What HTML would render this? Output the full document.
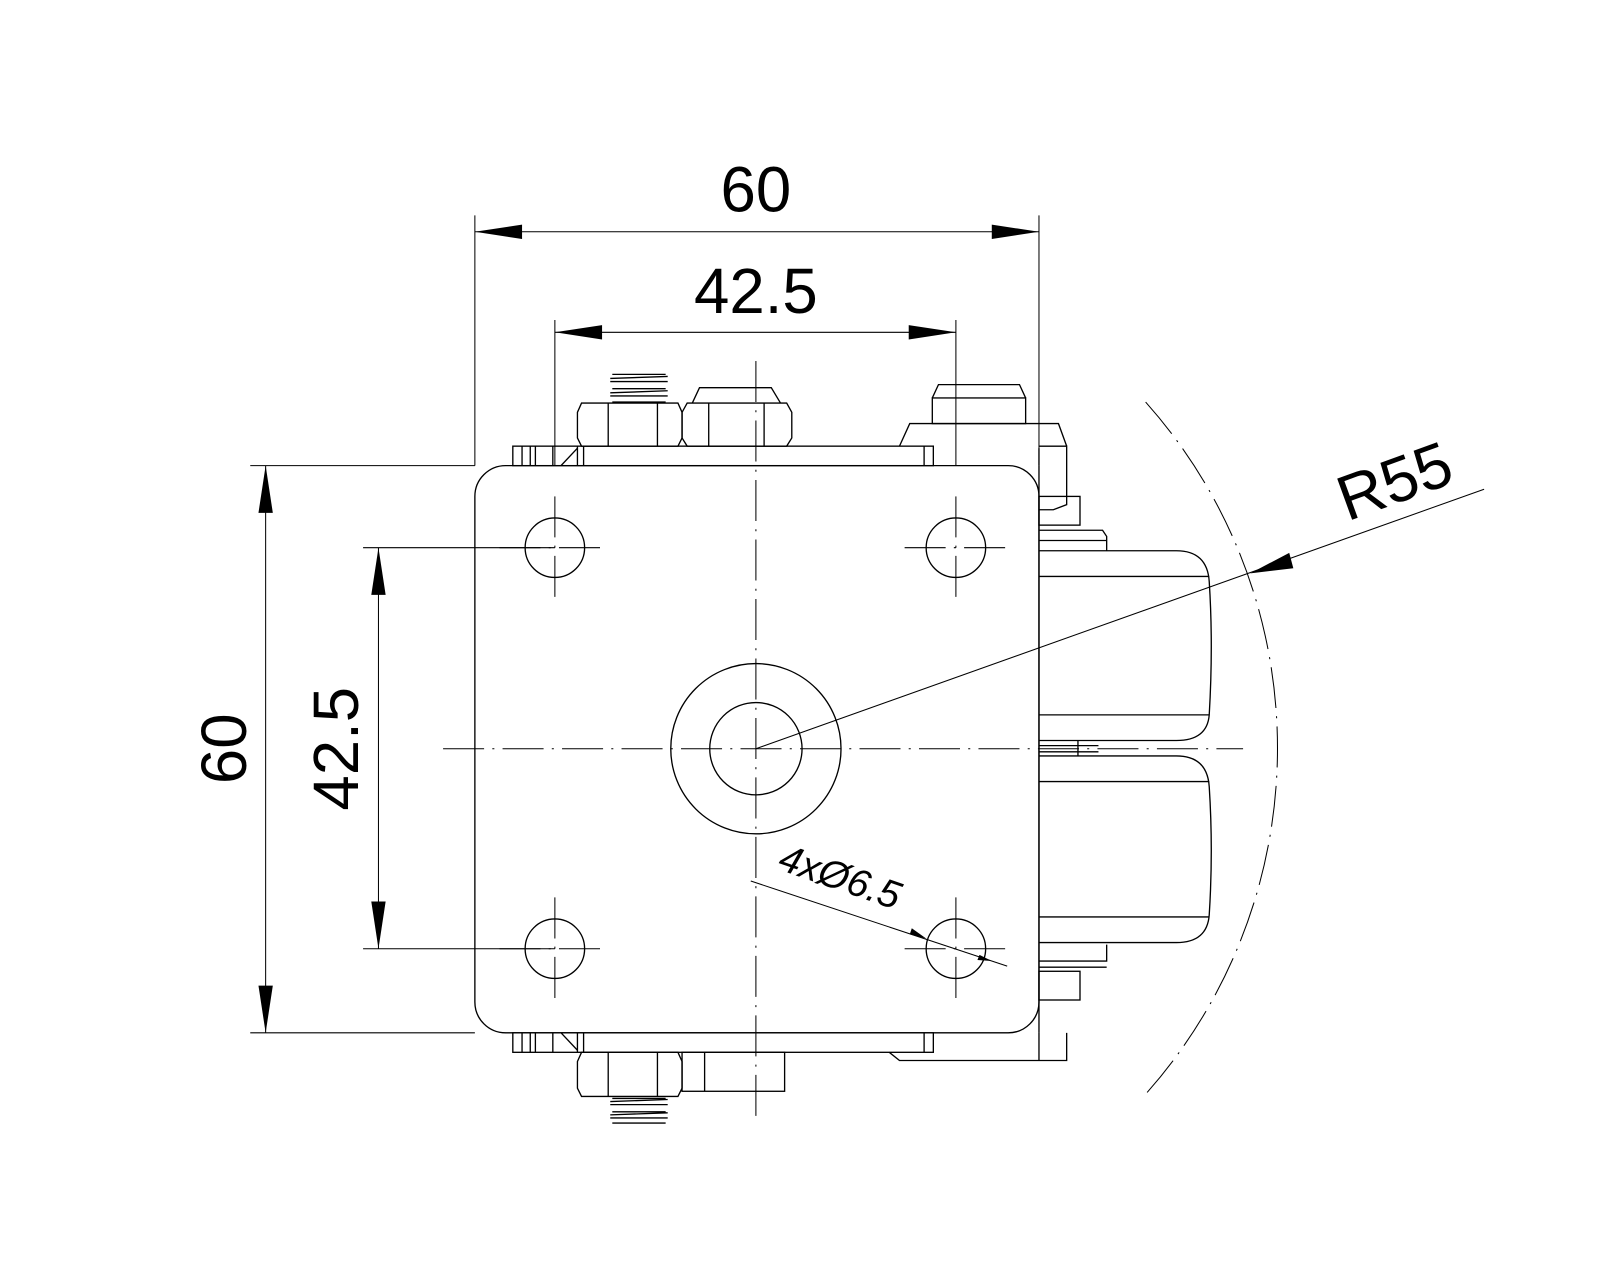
<!DOCTYPE html>
<html><head><style>html,body{margin:0;padding:0;background:#fff}svg{display:block}</style></head>
<body>
<svg width="1600" height="1280" viewBox="3 3 1560 1248" xmlns="http://www.w3.org/2000/svg">
<g fill="none" stroke="#000" stroke-width="1.3">
<rect x="466" y="457" width="550" height="553" rx="30"/>
<circle cx="544" cy="537" r="29"/><circle cx="935" cy="537" r="29"/>
<circle cx="544" cy="928" r="29"/><circle cx="935" cy="928" r="29"/>
<circle cx="740" cy="733" r="83"/><circle cx="740" cy="733" r="45"/>
<rect x="503" y="438" width="410" height="19"/>
<line x1="512" y1="438" x2="512" y2="457"/><line x1="520" y1="438" x2="520" y2="457"/><line x1="525" y1="438" x2="525" y2="457"/>
<line x1="542" y1="438" x2="542" y2="457"/><line x1="566" y1="438" x2="566" y2="457"/><line x1="572" y1="438" x2="572" y2="457"/><line x1="550" y1="457" x2="566" y2="440"/>
<line x1="904" y1="438" x2="904" y2="457"/>
<path d="M566 405 L570 396 H664 L668 405 V430 L664 438 H570 L566 430 Z"/>
<line x1="596" y1="396" x2="596" y2="438"/><line x1="644" y1="396" x2="644" y2="438"/>
<path d="M668 405 L673 396 H770 L775 405 V430 L770 438 H673 L668 430 Z"/>
<path d="M678 396 L685 381 H755 L764 396"/>
<line x1="694" y1="396" x2="694" y2="438"/><line x1="748" y1="396" x2="748" y2="438"/>
<path d="M600 368 H652 M598 375 H654 M600 382 H652 M598 389 H654 M600 395 H652 M598 372 L654 370 M598 386 L654 384"/>
<rect x="912" y="391" width="91" height="25"/><path d="M912 391 L918 378 H997 L1003 391"/>
<path d="M880 438 L890 416 H1035 L1043 438"/>
<path d="M1016 438 H1043 V495 L1030 500 H1016"/>
<line x1="1016" y1="440" x2="1016" y2="457"/>
<rect x="1016" y="487" width="40" height="28"/>
<path d="M1016 520 H1078 L1082 526 V540 M1016 530 H1082"/>
<rect x="503" y="1010" width="410" height="19"/>
<line x1="512" y1="1010" x2="512" y2="1029"/><line x1="520" y1="1010" x2="520" y2="1029"/><line x1="525" y1="1010" x2="525" y2="1029"/>
<line x1="542" y1="1010" x2="542" y2="1029"/><line x1="566" y1="1010" x2="566" y2="1029"/><line x1="572" y1="1010" x2="572" y2="1029"/><line x1="550" y1="1010" x2="566" y2="1027"/>
<line x1="904" y1="1010" x2="904" y2="1029"/>
<path d="M566 1038 L570 1029 H664 L668 1038 V1064 L664 1072 H570 L566 1064 Z"/>
<line x1="596" y1="1029" x2="596" y2="1072"/><line x1="644" y1="1029" x2="644" y2="1072"/>
<rect x="668" y="1029" width="100" height="38"/><line x1="690" y1="1029" x2="690" y2="1067"/>
<path d="M600 1074 H652 M598 1080 H654 M600 1087 H652 M598 1093 H654 M600 1098 H652 M598 1077 L654 1075 M598 1090 L654 1088"/>
<path d="M870 1029 L880 1037 H1043 V1010"/><line x1="1016" y1="1010" x2="1016" y2="1037"/>
<rect x="1016" y="950" width="40" height="28"/>
<path d="M1016 940 H1082 V924 M1016 946 H1082"/>
<path d="M1016 540 H1150 Q1180 540 1182 570 Q1186 632 1182 700 Q1180 725 1150 725 H1016"/>
<line x1="1016" y1="565" x2="1182" y2="565"/><line x1="1016" y1="700" x2="1182" y2="700"/>
<path d="M1016 740 H1150 Q1180 740 1182 770 Q1186 832 1182 895 Q1180 922 1150 922 H1016"/>
<line x1="1016" y1="765" x2="1182" y2="765"/><line x1="1016" y1="897" x2="1182" y2="897"/>
<line x1="1016" y1="457" x2="1016" y2="1010"/>
<line x1="1016" y1="730" x2="1074" y2="730"/><line x1="1016" y1="736" x2="1074" y2="736"/><line x1="1054" y1="725" x2="1054" y2="740"/>
</g>
<g fill="none" stroke="#000" stroke-width="1" stroke-dasharray="40,8,2,8">
<line x1="740" y1="355" x2="740" y2="1095"/>
<line x1="435" y1="733" x2="1215" y2="733"/>
<line x1="544" y1="487" x2="544" y2="590"/><line x1="490" y1="537" x2="595" y2="537"/>
<line x1="935" y1="487" x2="935" y2="590"/><line x1="885" y1="537" x2="990" y2="537"/>
<line x1="544" y1="878" x2="544" y2="980"/><line x1="490" y1="928" x2="595" y2="928"/>
<line x1="935" y1="878" x2="935" y2="980"/><line x1="885" y1="928" x2="990" y2="928"/>
<path d="M1120 395 A507 507 0 0 1 1118 1072"/>
</g>
<g fill="none" stroke="#000" stroke-width="1">
<line x1="466" y1="213" x2="466" y2="457"/><line x1="1016" y1="213" x2="1016" y2="457"/>
<line x1="466" y1="229" x2="1016" y2="229"/>
<line x1="544" y1="315" x2="544" y2="457"/><line x1="935" y1="315" x2="935" y2="457"/>
<line x1="544" y1="327" x2="935" y2="327"/>
<line x1="247" y1="457" x2="466" y2="457"/><line x1="247" y1="1010" x2="466" y2="1010"/>
<line x1="262" y1="457" x2="262" y2="1010"/>
<line x1="357" y1="537" x2="544" y2="537"/><line x1="357" y1="928" x2="544" y2="928"/>
<line x1="372" y1="537" x2="372" y2="928"/>
<line x1="740" y1="733" x2="1450" y2="480"/>
<line x1="735" y1="862" x2="985" y2="945"/>
</g>
<g fill="#000">
<path d="M466 229 L512 222 L512 236 Z"/><path d="M1016 229 L970 222 L970 236 Z"/>
<path d="M544 327 L590 320 L590 334 Z"/><path d="M935 327 L889 320 L889 334 Z"/>
<path d="M262 457 L255 503 L269 503 Z"/><path d="M262 1010 L255 964 L269 964 Z"/>
<path d="M372 537 L365 583 L379 583 Z"/><path d="M372 928 L365 882 L379 882 Z"/>
<path d="M1222 562 L1260 542 L1264 557 Z"/>
<path d="M906 918 L892 908 L890 914 Z"/><path d="M970 940 L958 934 L956 939 Z"/>
</g>
<g font-family="Liberation Sans, sans-serif" fill="#000" text-anchor="middle">
<text x="740" y="209" font-size="62">60</text>
<text x="740" y="308" font-size="62">42.5</text>
<text transform="translate(243,733) rotate(-90)" font-size="62">60</text>
<text transform="translate(352,733) rotate(-90)" font-size="62">42.5</text>
<text transform="translate(1370,492) rotate(-20)" font-size="62">R55</text>
<text transform="translate(818,870) rotate(19)" font-size="38" font-style="italic">4xØ6.5</text>
</g>
</svg>
</body></html>
